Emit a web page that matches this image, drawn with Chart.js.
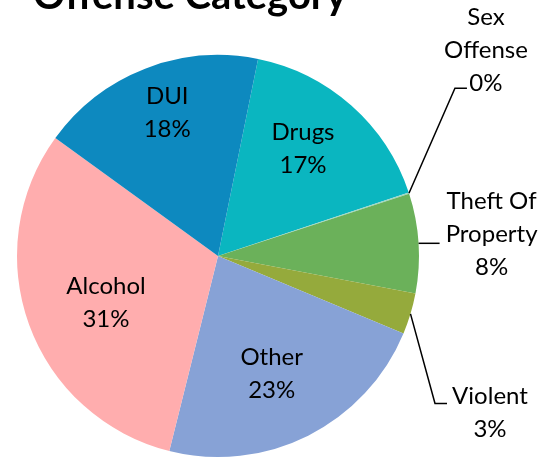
<!DOCTYPE html>
<html>
<head>
<meta charset="utf-8">
<script src="https://cdn.jsdelivr.net/npm/chart.js@4"></script>
<style>
  html, body { margin: 0; padding: 0; background: #ffffff; }
  #wrap { width: 556px; height: 458px; position: relative; }
</style>
</head>
<body>
<div id="wrap"><canvas id="c" width="556" height="458"></canvas></div>
<script>
// ---- data ----
const chartTitle = 'Offense Category';
const categories = ['Drugs', 'Sex Offense', 'Theft Of Property', 'Violent', 'Other', 'Alcohol', 'DUI'];
const shares = [16.7, 0.1, 8.0, 3.3, 22.6, 31.1, 18.2];

// ---- styles ----
const sliceColors = ['#0AB6C0', '#9ED6C0', '#6BB15A', '#95AA3C', '#87A2D6', '#FFADAE', '#0D89BF'];
const labelFont = '24px Lato, "Open Sans", sans-serif';
const titleFont = 'bold 40px Lato, "Open Sans", sans-serif';
const lineH = 33;
// label placement: inside labels sit along the slice's mid-angle (plus a small angular nudge, degrees)
// at a fraction of the radius; outside labels use offsets from the slice's outer mid point.
const labelPlacement = {
  'Drugs': { inside: 0.68, nudge: -3.1, lines: ['Drugs'] },
  'DUI': { inside: 0.755, nudge: 1.7, lines: ['DUI'] },
  'Alcohol': { inside: 0.604, nudge: -2.65, lines: ['Alcohol'] },
  'Other': { inside: 0.643, nudge: 2.1, lines: ['Other'] },
  'Sex Offense': { lines: ['Sex', 'Offense'], leader: [[46, -105], [58, -105]], text: [77, -176] },
  'Theft Of Property': { lines: ['Theft Of', 'Property'], leader: [[21, 0]], text: [73, -42] },
  'Violent': { lines: ['Violent'], leader: [[24.5, 89.6], [36.5, 89.6]], text: [79.5, 82] }
};

const labelsPlugin = {
  id: 'pieLabels',
  afterDraw(chart) {
    const ctx = chart.ctx;
    const meta = chart.getDatasetMeta(0);
    const data = chart.data.datasets[0].data;
    const total = data.reduce((a, b) => a + b, 0);
    ctx.save();
    ctx.fillStyle = '#000';
    ctx.textAlign = 'center';
    ctx.textBaseline = 'middle';
    ctx.font = labelFont;
    meta.data.forEach((arc, i) => {
      const name = chart.data.labels[i];
      const cfg = labelPlacement[name];
      const pct = Math.round(data[i] / total * 100) + '%';
      const lines = cfg.lines.concat([pct]);
      const mid = (arc.startAngle + arc.endAngle) / 2;
      const r = arc.outerRadius;
      if (cfg.inside) {
        const a = mid + cfg.nudge * Math.PI / 180;
        const cx = arc.x + Math.cos(a) * r * cfg.inside;
        const cy = arc.y + Math.sin(a) * r * cfg.inside;
        const y0 = cy - (lines.length - 1) * lineH / 2;
        lines.forEach((t, k) => ctx.fillText(t, cx, y0 + k * lineH));
      } else {
        const ax = arc.x + Math.cos(mid) * r;
        const ay = arc.y + Math.sin(mid) * r;
        ctx.beginPath();
        ctx.strokeStyle = '#000';
        ctx.lineWidth = 1.5;
        ctx.moveTo(ax, ay);
        cfg.leader.forEach(p => ctx.lineTo(ax + p[0], ay + p[1]));
        ctx.stroke();
        const tx = ax + cfg.text[0];
        const ty = ay + cfg.text[1];
        lines.forEach((t, k) => ctx.fillText(t, tx, ty + k * lineH));
      }
    });
    // title (partly cut off at the top, as in the reference)
    ctx.font = titleFont;
    ctx.textBaseline = 'alphabetic';
    ctx.fillText(chartTitle, 190, 9);
    ctx.restore();
  }
};

new Chart(document.getElementById('c'), {
  type: 'pie',
  data: {
    labels: categories,
    datasets: [{
      data: shares,
      backgroundColor: sliceColors,
      borderWidth: 0
    }]
  },
  options: {
    responsive: false,
    animation: false,
    rotation: 11.5,
    layout: { padding: { left: 17, right: 137, top: 55, bottom: 1 } },
    plugins: {
      legend: { display: false },
      tooltip: { enabled: false },
      title: { display: false }
    }
  },
  plugins: [labelsPlugin]
});
</script>
</body>
</html>
